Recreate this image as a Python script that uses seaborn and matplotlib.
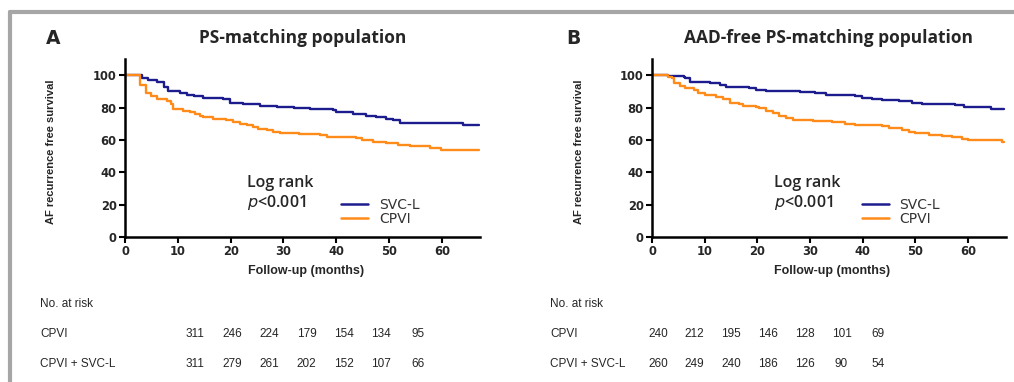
import matplotlib
matplotlib.use("Agg")
import matplotlib.pyplot as plt
import seaborn as sns
import pandas as pd
from matplotlib.lines import Line2D

# ---------------- data ----------------
a_svc_t = [0, 3.2, 4.4, 6.0, 7.3, 8.2, 10.4, 11.7, 13.0, 14.8, 18.6, 19.9, 22.4, 25.6, 28.7, 31.9, 35.0, 39.4, 40.0, 43.2, 45.7, 47.6, 49.5, 50.8, 52.0, 64.0, 67.0]
a_svc_s = [100, 98, 97, 96, 93, 90.5, 89, 88, 87, 86, 85, 83, 82, 81, 80.5, 80, 79, 78.5, 77, 76, 75, 74, 73, 72, 70.5, 69, 69]
a_cpvi_t = [0, 2.8, 3.9, 5.0, 6.0, 7.9, 8.8, 9.1, 11.0, 12.3, 13.2, 14.2, 14.8, 16.7, 19.2, 20.5, 21.8, 23.0, 24.3, 25.2, 26.8, 28.0, 29.3, 33.0, 36.9, 38.2, 40.0, 43.8, 44.8, 47.0, 49.5, 51.7, 54.0, 55.8, 57.7, 59.9, 66.2, 67.0]
a_cpvi_s = [100, 94, 89, 87, 85, 84, 82, 79, 78, 77, 76, 75, 74, 73, 72, 71, 70, 69, 68, 66.5, 66, 65, 64, 63.5, 63, 62, 61.5, 61, 60, 59, 58, 57, 56.5, 56, 55, 54, 53.5, 53.5]

b_svc_t = [0, 3.1, 6.0, 6.3, 7.2, 9.1, 11.0, 12.9, 14.1, 16.6, 18.5, 19.8, 21.7, 24.8, 28.0, 31.0, 33.0, 34.9, 38.6, 39.9, 41.8, 43.7, 46.8, 49.3, 51.2, 57.5, 59.3, 64.4, 66.8]
b_svc_s = [100, 99.5, 99, 98, 96, 95.5, 95, 94, 93, 92.5, 92, 91, 90.5, 90, 89.5, 89, 88, 87.5, 87, 86, 85.5, 84.5, 84, 83, 82, 81.5, 80.5, 79, 79]
b_cpvi_t = [0, 3.1, 3.8, 4.1, 5.3, 6.3, 7.9, 8.8, 10.0, 12.2, 13.5, 14.8, 16.6, 17.3, 19.8, 20.4, 21.7, 22.9, 24.2, 25.4, 26.7, 28.0, 30.5, 34.2, 36.7, 38.6, 43.7, 44.9, 47.4, 48.7, 50.0, 52.5, 55.0, 56.9, 58.8, 60.0, 66.4, 66.8]
b_cpvi_s = [100, 99, 98, 95, 93.5, 92, 91, 89, 87.5, 86.5, 85, 83, 82, 81, 80.5, 79.5, 78, 76.5, 75, 73.5, 72.5, 72, 71.5, 71, 70, 69, 68.5, 67.5, 66, 65, 64, 63, 62.5, 61.5, 60.5, 60, 59, 59]

groups = ["SVC-L", "CPVI"]
panel_letters = ["A", "B"]
panel_titles = ["PS-matching population", "AAD-free PS-matching population"]
x_ticks = [0, 10, 20, 30, 40, 50, 60]
y_ticks = [0, 20, 40, 60, 80, 100]
risk_rows = ["CPVI", "CPVI + SVC-L"]
a_risk_cpvi = [311, 246, 224, 179, 154, 134, 95]
a_risk_svc = [311, 279, 261, 202, 152, 107, 66]
b_risk_cpvi = [240, 212, 195, 146, 128, 101, 69]
b_risk_svc = [260, 249, 240, 186, 126, 90, 54]

colors = {"SVC-L": "#1c1c8e", "CPVI": "#ff8c1a"}

sns.set_theme(style="white")
plt.rcParams["font.family"] = ["DejaVu Sans"]

W, H = 1014, 382
fig = plt.figure(figsize=(W / 100, H / 100), dpi=100)

def fx(px):
    return px / W

def fy(py):
    return 1 - py / H

narrow = ["Liberation Sans Narrow", "Liberation Sans", "DejaVu Sans"]
title_font = ["Open Sans", "DejaVu Sans"]

# frame
fig.add_artist(Line2D([fx(9.5), 1], [fy(11.5), fy(11.5)], color="#a6a6a6", lw=3, transform=fig.transFigure))
fig.add_artist(Line2D([fx(9.5), fx(9.5)], [fy(11.5), 0], color="#a6a6a6", lw=3, transform=fig.transFigure))

panels = [
    (125, 480, a_svc_t, a_svc_s, a_cpvi_t, a_cpvi_s, a_risk_cpvi, a_risk_svc, 40, 195, 37.2, 53, 51, 0.59),
    (652, 1006, b_svc_t, b_svc_s, b_cpvi_t, b_cpvi_s, b_risk_cpvi, b_risk_svc, 550, 658, 36.7, 573, 579, 0.573),
]

for i, (l, r, st, ss, ct, cs, rc, rs, lab_x, num_x0, num_dx, letter_x, ylab_x, leg_x) in enumerate(panels):
    ax = fig.add_axes([fx(l), fy(237), fx(r) - fx(l), fy(59) - fy(237)])
    df = pd.concat([
        pd.DataFrame({"t": st, "s": ss, "group": "SVC-L"}),
        pd.DataFrame({"t": ct, "s": cs, "group": "CPVI"}),
    ], ignore_index=True)
    sns.lineplot(data=df, x="t", y="s", hue="group", hue_order=groups, palette=colors,
                 drawstyle="steps-post", lw=1.7, legend=False, ax=ax, estimator=None, sort=False)
    ax.set_xlim(0, 67.2)
    ax.set_ylim(0, 110)
    ax.set_xticks(x_ticks)
    ax.set_yticks(y_ticks)
    ax.set_xlabel("")
    ax.set_ylabel("")
    ax.set_facecolor("none")
    for sp in ["top", "right"]:
        ax.spines[sp].set_visible(False)
    for sp in ["left", "bottom"]:
        ax.spines[sp].set_color("black")
        ax.spines[sp].set_linewidth(1.8)
    ax.tick_params(axis="both", direction="out", length=4, width=1.5, color="black",
                   labelsize=8.3, pad=2, bottom=True, left=True)
    for lbl in ax.get_xticklabels() + ax.get_yticklabels():
        lbl.set_fontweight("bold")
    # text in panel
    ax.text(0.345, 0.305, "Log rank", transform=ax.transAxes, fontsize=11.5,
            family=title_font, fontweight="semibold", va="center", ha="left")
    ax.text(0.345, 0.195, r"$p$<0.001", transform=ax.transAxes, fontsize=11.5,
            family=title_font, fontweight="semibold", va="center", ha="left")
    handles = [Line2D([], [], color=colors[g], lw=1.8) for g in groups]
    leg = ax.legend(handles, groups, loc="lower left", bbox_to_anchor=(leg_x, 0.022),
                    frameon=False, fontsize=10, handlelength=1.95, handletextpad=0.75,
                    labelspacing=0.0, borderpad=0)
    for t in leg.get_texts():
        t.set_color("#333333")

    fig.text(fx((l + r) / 2), fy(38), panel_titles[i], fontsize=12.5, family=title_font,
             fontweight="bold", ha="center", va="center")
    fig.text(fx(letter_x), fy(39), panel_letters[i], fontsize=13.5, family=["DejaVu Sans"],
             fontweight="bold", ha="center", va="center")
    fig.text(fx(ylab_x), fy(152), "AF recurrence free survival", fontsize=8, family=narrow,
             fontweight="bold", rotation=90, ha="center", va="center")
    fig.text(fx(l + (r - l) * 0.51), fy(271), "Follow-up (months)", fontsize=9, family=narrow,
             fontweight="bold", ha="center", va="center")
    # risk table
    fig.text(fx(lab_x), fy(304), "No. at risk", fontsize=8.5, family=narrow, ha="left", va="center")
    for row_y, name, vals in [(334, risk_rows[0], rc), (364, risk_rows[1], rs)]:
        fig.text(fx(lab_x), fy(row_y), name, fontsize=8.5, family=narrow, ha="left", va="center")
        for j, v in enumerate(vals):
            fig.text(fx(num_x0 + j * num_dx), fy(row_y), str(v), fontsize=8.5, family=narrow,
                     ha="center", va="center")

fig.savefig("out.png", dpi=100)
